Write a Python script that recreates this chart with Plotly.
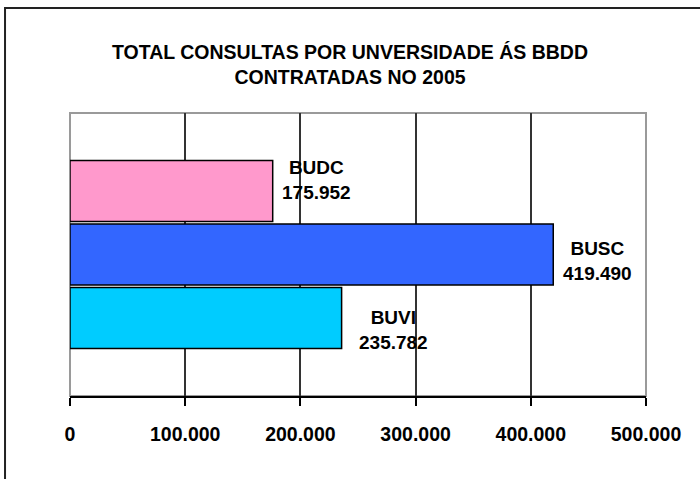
import plotly.graph_objects as go

categories = ["BUVI", "BUSC", "BUDC"]
values = [235782, 419490, 175952]
value_labels = ["235.782", "419.490", "175.952"]
tick_values = [0, 100000, 200000, 300000, 400000, 500000]
tick_labels = ["0", "100.000", "200.000", "300.000", "400.000", "500.000"]
title_text = "TOTAL CONSULTAS POR UNVERSIDADE ÁS BBDD<br>CONTRATADAS NO 2005"

bar_colors = ["#00CCFF", "#3366FF", "#FF99CC"]
label_xshift = [52, 44, 44]
label_yshift = [-12, -6, 11]

BOLD = "Liberation Sans, Arial, sans-serif"

fig = go.Figure()
fig.add_trace(go.Bar(
    y=categories, x=values, orientation="h",
    marker=dict(color=bar_colors, line=dict(color="black", width=1.5)),
    width=0.96, hoverinfo="skip",
))

for cat, val, lab, xs, ys in zip(categories, values, value_labels, label_xshift, label_yshift):
    fig.add_annotation(
        x=val, y=cat, text=f"{cat}<br>{lab}", showarrow=False,
        xanchor="center", yanchor="middle", xshift=xs, yshift=ys,
        font=dict(family=BOLD, size=19, color="black", weight="bold"),
    )

# plot-area border (gray) between gridlines and bars
fig.add_shape(type="rect", xref="paper", yref="paper", x0=0, x1=1, y0=0, y1=1,
              line=dict(color="#9a9a9a", width=2), layer="between")
# outer chart border
fig.add_shape(type="rect", xref="paper", yref="paper",
              x0=-0.1128, x1=1.11, y0=-0.33, y1=1.371,
              line=dict(color="#222222", width=2), layer="above")

fig.update_layout(
    width=700, height=479,
    margin=dict(l=70, r=54, t=113, b=83),
    paper_bgcolor="white", plot_bgcolor="white",
    showlegend=False,
    title=dict(text=title_text, x=0.5, xref="container", xanchor="center",
               y=1 - 59 / 479, yref="container", yanchor="middle",
               font=dict(family=BOLD, size=19.5, color="black", weight="bold")),
    xaxis=dict(
        range=[0, 500000], tickvals=tick_values, ticktext=tick_labels,
        showgrid=True, gridcolor="#333333", gridwidth=2,
        showline=True, linecolor="black", linewidth=2,
        ticks="outside", ticklen=8, tickcolor="black", tickwidth=2,
        ticklabelstandoff=12, zeroline=False,
        tickfont=dict(family=BOLD, size=19.5, color="black", weight="bold"),
        fixedrange=True,
    ),
    yaxis=dict(
        type="category", categoryorder="array", categoryarray=categories,
        range=[-1.23, 3.23], visible=False, showgrid=False, fixedrange=True,
    ),
)

fig.write_html(
    "out.html",
    config={"displayModeBar": False},
    post_script="document.body.style.margin='0';document.body.style.overflow='hidden';",
)
